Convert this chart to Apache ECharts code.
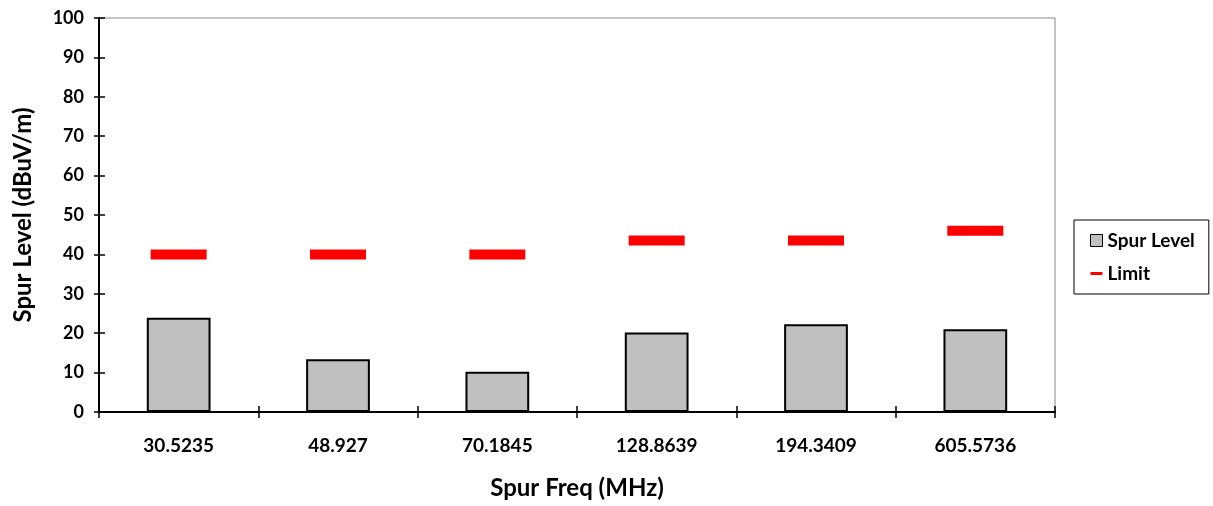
<!DOCTYPE html>
<html><head><meta charset="utf-8">
<script src="https://cdn.jsdelivr.net/npm/echarts@6/dist/echarts.min.js"></script>
<style>html,body{margin:0;padding:0;background:#fff}#c{width:1213px;height:506px}</style>
</head><body><div id="c"></div>
<script>
const categories = ['30.5235','48.927','70.1845','128.8639','194.3409','605.5736'];
const spurLevel = [23.9, 13.4, 10.2, 20.2, 22.3, 21.0];
const limit = [40, 40, 40, 43.5, 43.5, 46];
const yTicks = {min:0, max:100, interval:10};

const F = 'Lato, "Open Sans", sans-serif';
const chart = echarts.init(document.getElementById('c'));
chart.setOption({
  backgroundColor:'#fff',
  animation:false,
  grid:{left:99,right:158,top:18,bottom:94,show:true,borderColor:'#888',borderWidth:1,
        backgroundColor:'transparent',containLabel:false,outerBoundsMode:'none'},
  legend:{
    orient:'vertical', left:1074, top:220,
    padding:[11,14,11,16], itemGap:14, itemWidth:12, itemHeight:12,
    borderColor:'#000', borderWidth:1,
    textStyle:{fontFamily:F,fontWeight:'bold',fontSize:19,color:'#000'},
    data:[
      {name:'Spur Level', icon:'rect', itemStyle:{color:'#C0C0C0',borderColor:'#000',borderWidth:1}},
      {name:'Limit', icon:'path://M0,0 M0,4.5 L12,4.5 L12,7.5 L0,7.5 Z M12,12', itemStyle:{color:'#FF0000'}}
    ]
  },
  xAxis:[{
    type:'category', data:categories, boundaryGap:true,
    name:'Spur Freq (MHz)', nameLocation:'middle', nameGap:64,
    nameTextStyle:{fontFamily:F,fontWeight:'bold',fontSize:24,color:'#000'},
    axisLine:{show:true,lineStyle:{color:'#000',width:2}},
    axisTick:{show:true,interval:0,alignWithLabel:false,length:6,lineStyle:{color:'#000',width:1.5}},
    axisLabel:{interval:0,fontFamily:F,fontWeight:'bold',fontSize:19,color:'#000',margin:24},
    splitLine:{show:false}
  },{
    type:'category', data:categories, position:'bottom', boundaryGap:true,
    axisLine:{show:false}, axisLabel:{show:false}, splitLine:{show:false},
    axisTick:{show:true,interval:0,inside:true,length:6,lineStyle:{color:'#000',width:1.5}}
  }],
  yAxis:[{
    type:'value', min:yTicks.min, max:yTicks.max, interval:yTicks.interval,
    name:'Spur Level (dBuV/m)', nameLocation:'middle', nameGap:64, nameRotate:90,
    nameTextStyle:{fontFamily:F,fontWeight:'bold',fontSize:24,color:'#000'},
    axisLine:{show:true,lineStyle:{color:'#000',width:2}},
    axisTick:{show:true,length:5,lineStyle:{color:'#000',width:1.5}},
    axisLabel:{fontFamily:F,fontWeight:'bold',fontSize:18,color:'#000',margin:15},
    splitLine:{show:false}
  },{
    type:'value', min:yTicks.min, max:yTicks.max, interval:yTicks.interval, position:'left',
    axisLine:{show:false}, axisLabel:{show:false}, splitLine:{show:false},
    axisTick:{show:true,inside:true,length:6,lineStyle:{color:'#000',width:1.5}}
  }],
  series:[{
    name:'Spur Level', type:'bar', data:spurLevel, barWidth:'40%',
    itemStyle:{color:'#C0C0C0',borderColor:'#000',borderWidth:2}
  },{
    name:'Limit', type:'scatter', data:limit, symbol:'rect', symbolSize:[56,10],
    itemStyle:{color:'#FF0000',opacity:1}, z:5
  }]
});
</script></body></html>
